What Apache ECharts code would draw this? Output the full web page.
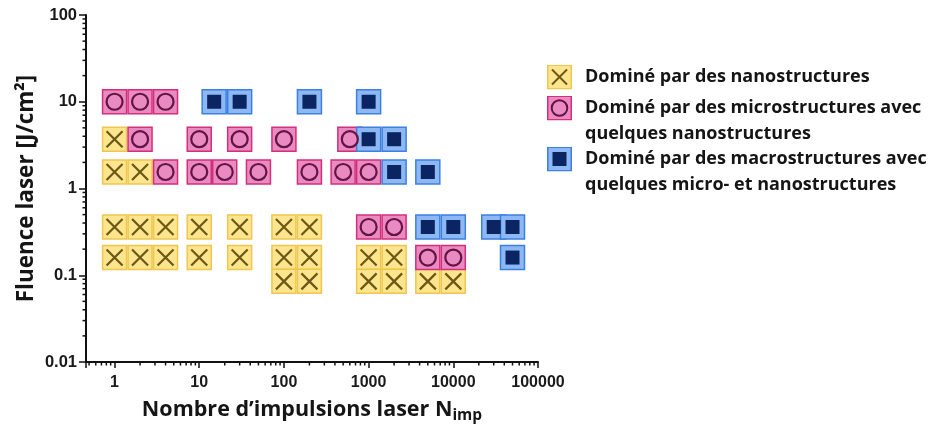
<!DOCTYPE html>
<html><head><meta charset="utf-8">
<script src="https://cdn.jsdelivr.net/npm/echarts@6/dist/echarts.min.js"></script>
<style>html,body{margin:0;padding:0;background:#fff}#c{width:932px;height:436px}</style>
</head><body><div id="c"></div>
<script>
// ---- data ----
const nanoN  = [1, 1, 2, 1, 2, 4, 10, 30, 100, 200, 1, 2, 4, 10, 30, 100, 200, 1000, 2000, 100, 200, 1000, 2000, 5000, 10000];
const nanoF  = [3.7, 1.55, 1.55, 0.36, 0.36, 0.36, 0.36, 0.36, 0.36, 0.36, 0.16, 0.16, 0.16, 0.16, 0.16, 0.16, 0.16, 0.16, 0.16, 0.085, 0.085, 0.085, 0.085, 0.085, 0.085];
const microN = [1, 2, 4, 2, 10, 30, 100, 600, 4, 10, 20, 50, 200, 500, 1000, 1000, 2000, 5000, 10000];
const microF = [10, 10, 10, 3.7, 3.7, 3.7, 3.7, 3.7, 1.55, 1.55, 1.55, 1.55, 1.55, 1.55, 1.55, 0.36, 0.36, 0.16, 0.16];
const macroN = [15, 30, 200, 1000, 1000, 2000, 2000, 5000, 5000, 10000, 30000, 50000, 50000];
const macroF = [10, 10, 10, 10, 3.7, 3.7, 1.55, 1.55, 0.36, 0.36, 0.36, 0.36, 0.16];
const seriesNames = ['nano', 'micro', 'macro'];
const legendLabels = [
  'Dominé par des nanostructures',
  'Dominé par des microstructures avec\nquelques nanostructures',
  'Dominé par des macrostructures avec\nquelques micro- et nanostructures'
];
const xTickLabels = ['1', '10', '100', '1000', '10000', '100000'];
const yTickLabels = ['0.01', '0.1', '1', '10', '100'];
const xTitle = 'Nombre d’impulsions laser N';
const xTitleSub = 'imp';
const yTitle = 'Fluence laser [J/cm²]';

// ---- axis range ----
const X_MIN = 0.46, X_MAX = 100000, Y_MIN = 0.01, Y_MAX = 100;

// minor log ticks (2..9 x 10^k)
const xMinor = [], yMinor = [];
for (let k = -1; k <= 4; k++) for (let m = 2; m <= 9; m++) { const v = m * Math.pow(10, k); if (v >= X_MIN && v <= X_MAX) xMinor.push(+v.toPrecision(3)); }
for (let k = -2; k <= 1; k++) for (let m = 2; m <= 9; m++) yMinor.push(+(m * Math.pow(10, k)).toPrecision(3));

const zip = (a, b) => a.map((v, i) => [v, b[i]]);
const isPow = v => Math.abs(Math.log10(v) - Math.round(Math.log10(v))) < 1e-6;

// ---- styles ----
const C = {
  nano:  { fill: '#fde58e', border: '#efc64e', glyph: '#6b5716' },
  micro: { fill: '#e98bc2', border: '#d42f7a', glyph: '#651342' },
  macro: { fill: '#8eb8f3', border: '#3b80e2', glyph: '#0b2462' }
};
const SQ = 24;
function svgIcon(inner, c) {
  const s = '<svg xmlns="http://www.w3.org/2000/svg" width="50" height="50" viewBox="0 0 25 25">' +
    '<rect x="0.75" y="0.75" width="23.5" height="23.5" fill="' + c.fill + '" stroke="' + c.border + '" stroke-width="1.5"/>' + inner + '</svg>';
  return 'image://data:image/svg+xml;charset=utf-8,' + encodeURIComponent(s);
}
const icons = [
  svgIcon('<path d="M5,5L20,20M20,5L5,20" stroke="' + C.nano.glyph + '" stroke-width="2" fill="none"/>', C.nano),
  svgIcon('<circle cx="12.5" cy="12.5" r="7.8" stroke="' + C.micro.glyph + '" stroke-width="2" fill="' + C.micro.fill + '"/>', C.micro),
  svgIcon('<rect x="5.5" y="5.5" width="14" height="14" fill="' + C.macro.glyph + '"/>', C.macro)
];

function squares(name, data, c) {
  return { name: name, type: 'scatter', data: data, symbol: 'rect', symbolSize: SQ, z: 2,
    itemStyle: { color: c.fill, borderColor: c.border, borderWidth: 1.5, opacity: 1 },
    emphasis: { disabled: true }, silent: true, animation: false };
}
function glyphs(name, data, symbol, size, style) {
  return { name: name, type: 'scatter', data: data, symbol: symbol, symbolSize: size, z: 3,
    itemStyle: Object.assign({ opacity: 1 }, style), emphasis: { disabled: true }, silent: true, animation: false };
}
function minorTicks(data, horizontal) {
  return { type: 'custom', data: data, clip: false, silent: true, animation: false, z: 5,
    renderItem: function (params, api) {
      const p = api.coord([api.value(0), api.value(1)]);
      const shape = horizontal ? { x1: p[0], y1: p[1], x2: p[0], y2: p[1] + 3.5 }
                               : { x1: p[0] - 3.5, y1: p[1], x2: p[0], y2: p[1] };
      return { type: 'line', shape: shape, style: { stroke: '#111', lineWidth: 1.5 } };
    } };
}

const nanoData = zip(nanoN, nanoF), microData = zip(microN, microF), macroData = zip(macroN, macroF);
const titleFont = '"Open Sans", "Liberation Sans", sans-serif';
const tickFont = '"Liberation Sans", Arial, sans-serif';

function legendAt(i, top, twoLines) {
  return { show: true, orient: 'vertical', left: 547, top: top, padding: 0,
    itemWidth: 25, itemHeight: 25, selectedMode: false,
    data: [{ name: seriesNames[i], icon: icons[i] }],
    // a leading empty line keeps the icon level with the first text line
    formatter: () => (twoLines ? '\n' : '') + legendLabels[i],
    textStyle: { fontFamily: titleFont, fontWeight: 'bold', fontSize: 18, color: '#151515', lineHeight: 26,
      padding: [0, 0, 0, 8] } };
}

const option = {
  backgroundColor: '#ffffff',
  animation: false,
  grid: { left: 86, right: 394, top: 15, bottom: 74, containLabel: false },
  legend: [legendAt(0, 64, false), legendAt(1, 69, true), legendAt(2, 120, true)],
  xAxis: {
    type: 'log', logBase: 10, min: X_MIN, max: X_MAX,
    name: xTitle + '{sub|' + xTitleSub + '}', nameLocation: 'middle', nameGap: 33,
    nameTextStyle: { fontFamily: titleFont, fontWeight: 'bold', fontSize: 21.5, color: '#151515', lineHeight: 28,
      rich: { sub: { fontFamily: titleFont, fontWeight: 'bold', fontSize: 15.5, color: '#151515', verticalAlign: 'bottom', lineHeight: 15, padding: [11, 0, 0, 0] } } },
    axisLine: { show: true, onZero: false, lineStyle: { color: '#111', width: 2 } },
    axisTick: { show: true, inside: false, length: 6, lineStyle: { color: '#111', width: 1.5 } },
    axisLabel: { margin: 13, fontFamily: tickFont, fontWeight: 'bold', fontSize: 16, color: '#1a1a1a',
      formatter: v => isPow(v) ? xTickLabels[Math.round(Math.log10(v))] : '' },
    splitLine: { show: false }, minorTick: { show: false }
  },
  yAxis: {
    type: 'log', logBase: 10, min: Y_MIN, max: Y_MAX,
    name: yTitle, nameLocation: 'middle', nameGap: 48, nameRotate: 90,
    nameTextStyle: { fontFamily: titleFont, fontWeight: 'bold', fontSize: 22.5, color: '#151515' },
    axisLine: { show: true, onZero: false, lineStyle: { color: '#111', width: 2 } },
    axisTick: { show: true, inside: false, length: 7, lineStyle: { color: '#111', width: 1.5 } },
    axisLabel: { margin: 9, fontFamily: tickFont, fontWeight: 'bold', fontSize: 16.5, color: '#1a1a1a',
      formatter: v => isPow(v) ? yTickLabels[Math.round(Math.log10(v)) + 2] : '' },
    splitLine: { show: false }
  },
  series: [
    squares(seriesNames[0], nanoData, C.nano),
    glyphs('nano-glyph', nanoData, 'path://M0,0L10,10M10,0L0,10', 16, { color: 'transparent', borderColor: C.nano.glyph, borderWidth: 2.2 }),
    squares(seriesNames[1], microData, C.micro),
    glyphs('micro-glyph', microData, 'circle', 16, { color: C.micro.fill, borderColor: C.micro.glyph, borderWidth: 2.2 }),
    squares(seriesNames[2], macroData, C.macro),
    glyphs('macro-glyph', macroData, 'rect', 14, { color: C.macro.glyph, borderColor: C.macro.glyph, borderWidth: 0 }),
    minorTicks(xMinor.map(v => [v, Y_MIN]), true),
    minorTicks(yMinor.map(v => [X_MIN, v]), false)
  ]
};
const chart = echarts.init(document.getElementById('c'), null, { renderer: 'canvas' });
chart.setOption(option);
</script>
</body></html>
